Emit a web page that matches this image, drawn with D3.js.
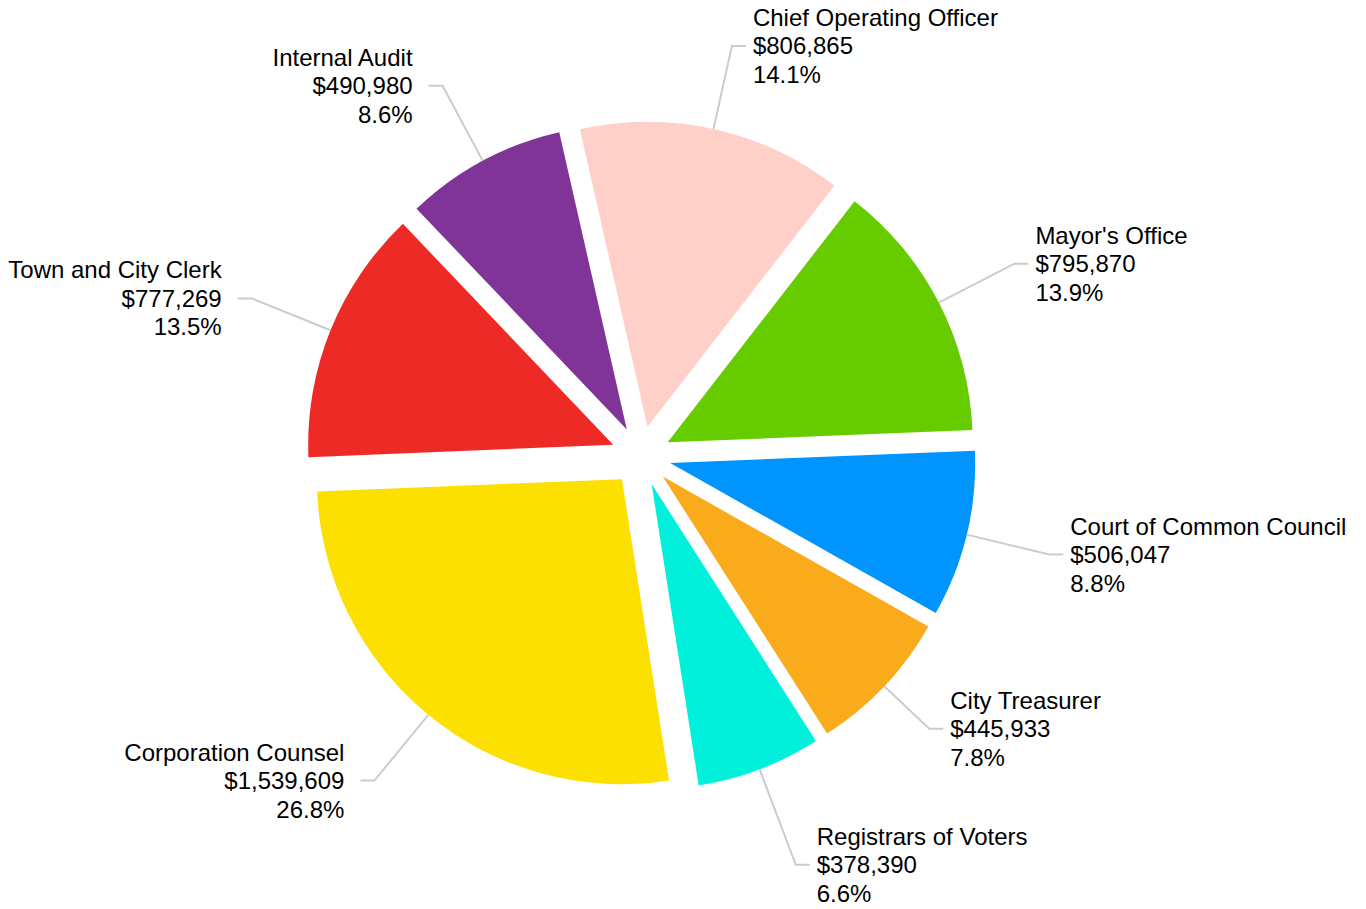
<!DOCTYPE html>
<html>
<head>
<meta charset="utf-8">
<script src="https://cdn.jsdelivr.net/npm/d3@7"></script>
<style>
  html, body { margin: 0; padding: 0; background: #fff; }
  svg { display: block; }
  text { font-family: "Liberation Sans", Arial, sans-serif; fill: #000; }
</style>
</head>
<body>
<div id="chart"></div>
<script>
// departments, clockwise from the top
var departments = ["Chief Operating Officer", "Mayor's Office", "Court of Common Council",
  "City Treasurer", "Registrars of Voters", "Corporation Counsel",
  "Town and City Clerk", "Internal Audit"];
var budgets = [806865, 795870, 506047, 445933, 378390, 1539609, 777269, 490980];
var sliceColors = ["#ffd0c8", "#66cc00", "#0094ff", "#f9ab1b", "#00f0dc", "#fbe000", "#ee2a26", "#813497"];

var width = 1366, height = 909;
var cx = 641, cy = 456,
    radius = 305,
    sliceOffset = 30,
    labelRadius = 420,
    minGap = 136;

var total = d3.sum(budgets);
var fmtMoney = d3.format(",");
var fmtPct = d3.format(".1%");

var rows = departments.map(function(name, i) {
  return { name: name, value: budgets[i], color: sliceColors[i] };
});

var pie = d3.pie()
  .sort(null)
  .value(function(d) { return d.value; })
  .startAngle(-12.8 * Math.PI / 180)
  .endAngle((360 - 12.8) * Math.PI / 180);

var arc = d3.arc().innerRadius(0).outerRadius(radius);

var svg = d3.select("#chart")
  .append("svg")
    .attr("width", width)
    .attr("height", height);

var g = svg.append("g").attr("transform", "translate(" + cx + "," + cy + ")");

var arcs = pie(rows);
arcs.forEach(function(a) {
  a.mid = (a.startAngle + a.endAngle) / 2;
  a.right = Math.sin(a.mid) > 0;
  a.ly = -labelRadius * Math.cos(a.mid);
});

// push labels apart on each side
[true, false].forEach(function(side) {
  var list = arcs.filter(function(a) { return a.right === side; })
    .sort(function(a, b) { return a.ly - b.ly; });
  for (var k = 0; k < 50; k++) {
    for (var i = 1; i < list.length; i++) {
      var gap = list[i].ly - list[i - 1].ly;
      if (gap < minGap) {
        var push = (minGap - gap) / 2;
        list[i].ly += push;
        list[i - 1].ly -= push;
      }
    }
  }
});

arcs.forEach(function(a) {
  // elbow on the slice ray at the label height
  var t = a.ly / -Math.cos(a.mid);
  a.lx = t * Math.sin(a.mid);
});

// slices
g.selectAll("path.slice")
  .data(arcs)
  .enter()
  .append("path")
    .attr("class", "slice")
    .attr("d", arc)
    .attr("fill", function(d) { return d.data.color; })
    .attr("transform", function(d) {
      return "translate(" + (sliceOffset * Math.sin(d.mid)) + "," + (-sliceOffset * Math.cos(d.mid)) + ")";
    });

// connectors
g.selectAll("path.connector")
  .data(arcs)
  .enter()
  .append("path")
    .attr("class", "connector")
    .attr("fill", "none")
    .attr("stroke", "#cccccc")
    .attr("stroke-width", 2)
    .attr("d", function(d) {
      var r0 = radius + sliceOffset;
      var x0 = r0 * Math.sin(d.mid), y0 = -r0 * Math.cos(d.mid);
      var x2 = d.lx + (d.right ? 14 : -14);
      return "M" + x0 + "," + y0 + "L" + d.lx + "," + d.ly + "L" + x2 + "," + d.ly;
    });

// labels
var labels = g.selectAll("text.label")
  .data(arcs)
  .enter()
  .append("text")
    .attr("class", "label")
    .attr("font-size", 24)
    .attr("text-anchor", function(d) { return d.right ? "start" : "end"; })
    .attr("x", function(d) { return d.lx + (d.right ? 21 : -30); })
    .attr("y", function(d) { return d.ly + 8.5 - 28.5; });

labels.each(function(d) {
  var t = d3.select(this);
  var x = t.attr("x");
  var lines = [d.data.name, "$" + fmtMoney(d.data.value), fmtPct(d.data.value / total)];
  lines.forEach(function(line, i) {
    t.append("tspan")
      .attr("x", x)
      .attr("dy", i === 0 ? 0 : 28.5)
      .text(line);
  });
});
</script>
</body>
</html>
